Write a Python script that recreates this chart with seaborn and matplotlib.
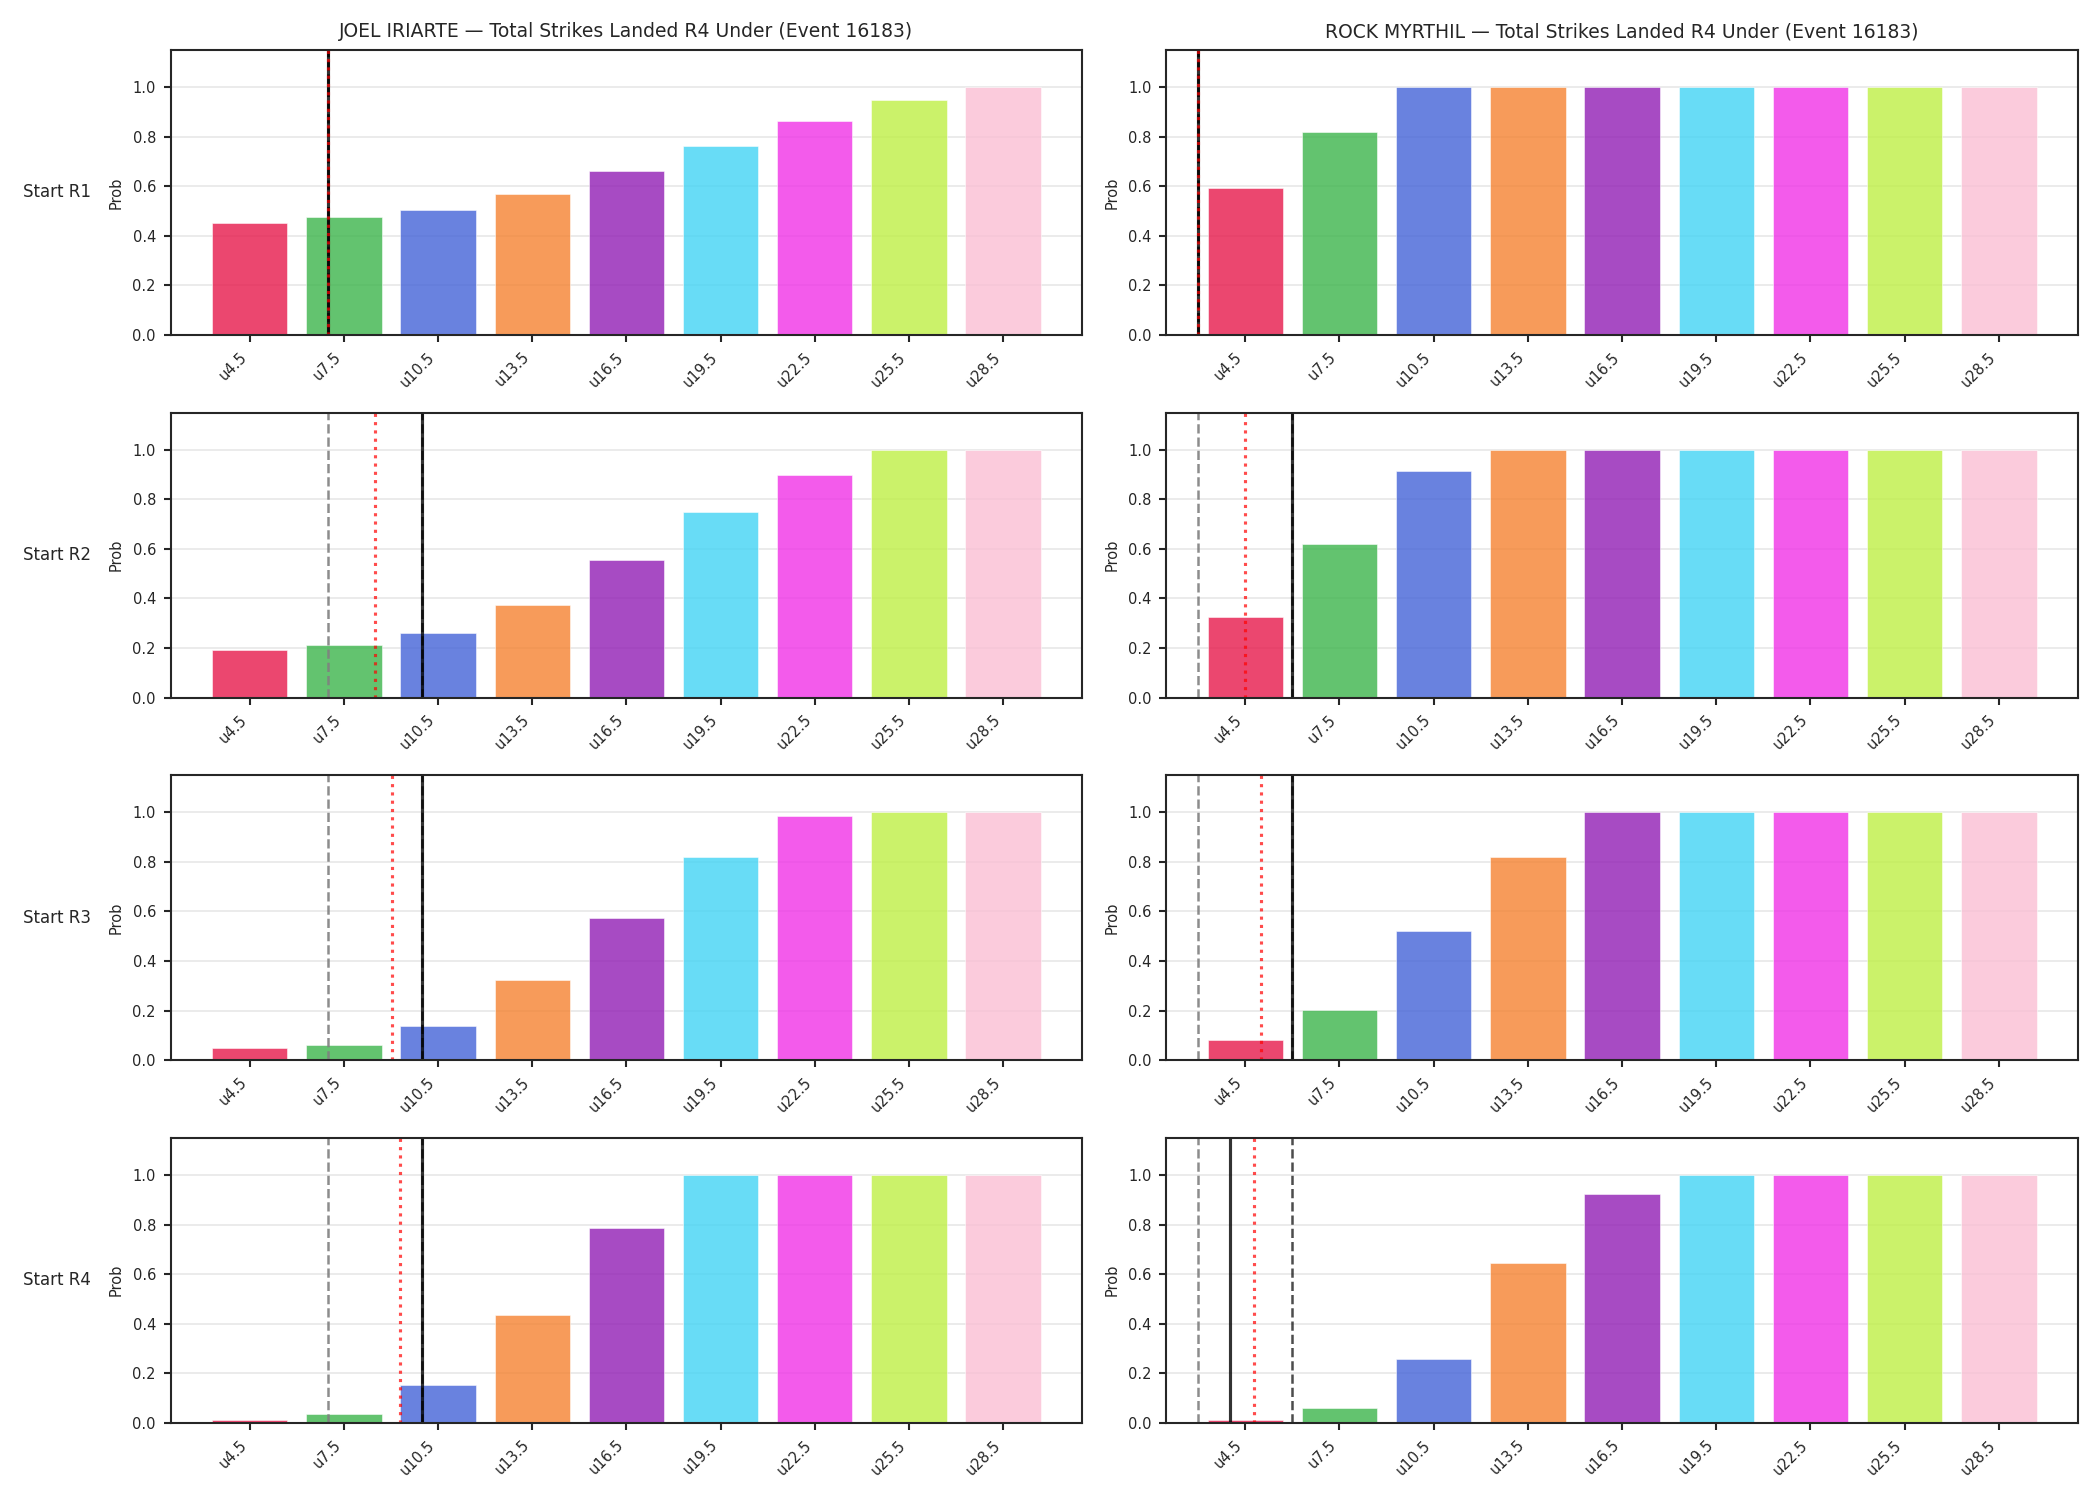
import numpy as np
import pandas as pd
import matplotlib
matplotlib.use('Agg')
import matplotlib.pyplot as plt
import seaborn as sns

# strike lines (bar labels) and row names
LINES = ['u4.5', 'u7.5', 'u10.5', 'u13.5', 'u16.5', 'u19.5', 'u22.5', 'u25.5', 'u28.5']
LINE_VALUES = [4.5, 7.5, 10.5, 13.5, 16.5, 19.5, 22.5, 25.5, 28.5]
ROWS = ['Start R1', 'Start R2', 'Start R3', 'Start R4']
FIGHTERS = ['JOEL IRIARTE', 'ROCK MYRTHIL']

PALETTE = ['#e6194b', '#3cb44b', '#4363d8', '#f58231', '#911eb4',
           '#42d4f4', '#f032e6', '#bfef45', '#fabed4']

# probability of staying under each line, per start round
joel_probs = [
    [0.453, 0.476, 0.505, 0.569, 0.662, 0.763, 0.864, 0.949, 1.0],
    [0.190, 0.213, 0.262, 0.375, 0.556, 0.749, 0.900, 1.0, 1.0],
    [0.048, 0.063, 0.138, 0.324, 0.574, 0.818, 0.984, 1.0, 1.0],
    [0.012, 0.035, 0.152, 0.435, 0.786, 1.0, 1.0, 1.0, 1.0],
]
rock_probs = [
    [0.593, 0.819, 1.0, 1.0, 1.0, 1.0, 1.0, 1.0, 1.0],
    [0.323, 0.620, 0.915, 1.0, 1.0, 1.0, 1.0, 1.0, 1.0],
    [0.080, 0.201, 0.520, 0.819, 1.0, 1.0, 1.0, 1.0, 1.0],
    [0.012, 0.059, 0.258, 0.643, 0.923, 1.0, 1.0, 1.0, 1.0],
]

# reference markers in strikes: start, current (dashed), projected (solid), expected (dotted)
joel_start = [7.0, 7.0, 7.0, 7.0]
joel_current = [7.0, 10.0, 10.0, 10.0]
joel_proj = [7.0, 10.0, 10.0, 10.0]
joel_exp = [7.0, 8.5, 9.05, 9.28]

rock_start = [3.0, 3.0, 3.0, 3.0]
rock_current = [3.0, 6.0, 6.0, 6.0]
rock_proj = [3.0, 6.0, 6.0, 4.0]
rock_exp = [3.0, 4.5, 5.0, 4.77]

PROBS = [joel_probs, rock_probs]
MARKERS = [
    (joel_start, joel_current, joel_proj, joel_exp),
    (rock_start, rock_current, rock_proj, rock_exp),
]


def to_pos(strikes):
    # map strike count onto categorical bar index
    return (strikes - LINE_VALUES[0]) / (LINE_VALUES[1] - LINE_VALUES[0])


sns.set_style('ticks', {'axes.edgecolor': '.15'})
plt.rcParams['font.family'] = ['DejaVu Sans']

fig, axes = plt.subplots(4, 2, figsize=(14, 10), dpi=150)
fig.subplots_adjust(left=0.0812, right=0.9895, top=0.9667, bottom=0.0515,
                    wspace=0.092, hspace=0.2726)

for col in range(2):
    start, current, proj, exp = MARKERS[col]
    for row in range(4):
        ax = axes[row, col]
        df = pd.DataFrame({'line': LINES, 'prob': PROBS[col][row]})
        sns.barplot(data=df, x='line', y='prob', hue='line', palette=PALETTE,
                    saturation=1, alpha=0.8, edgecolor='white', linewidth=0.3,
                    width=0.8, legend=False, ax=ax)
        ax.set_xlim(-0.84, 8.84)
        ax.set_ylim(0, 1.15)
        ax.set_yticks(np.arange(0, 1.01, 0.2))
        ax.grid(axis='y', color='#b0b0b0', alpha=0.3, linewidth=0.8)
        ax.set_axisbelow(True)
        for s in ax.spines.values():
            s.set_linewidth(1.0)
        ax.tick_params(axis='both', labelsize=7, length=3.5, width=1.0)
        ax.set_xticks(range(len(LINES)))
        ax.set_xticklabels(LINES, rotation=45, ha='right')
        ax.set_xlabel('')
        ax.set_ylabel('Prob', fontsize=7)

        ax.axvline(to_pos(start[row]), color='gray', ls='--', lw=1.2, alpha=0.9)
        ax.axvline(to_pos(current[row]), color='black', ls='--', lw=1.2, alpha=0.7)
        ax.axvline(to_pos(proj[row]), color='black', ls='-', lw=1.5, alpha=0.8)
        ax.axvline(to_pos(exp[row]), color='red', ls=':', lw=1.5, alpha=0.7)

        if row == 0:
            ax.set_title(f'{FIGHTERS[col]} — Total Strikes Landed R4 Under (Event 16183)',
                         fontsize=9)
        if col == 0:
            pos = ax.get_position()
            fig.text(0.011, (pos.y0 + pos.y1) / 2, ROWS[row], fontsize=8,
                     ha='left', va='center')

fig.savefig('out.png', dpi=150)
